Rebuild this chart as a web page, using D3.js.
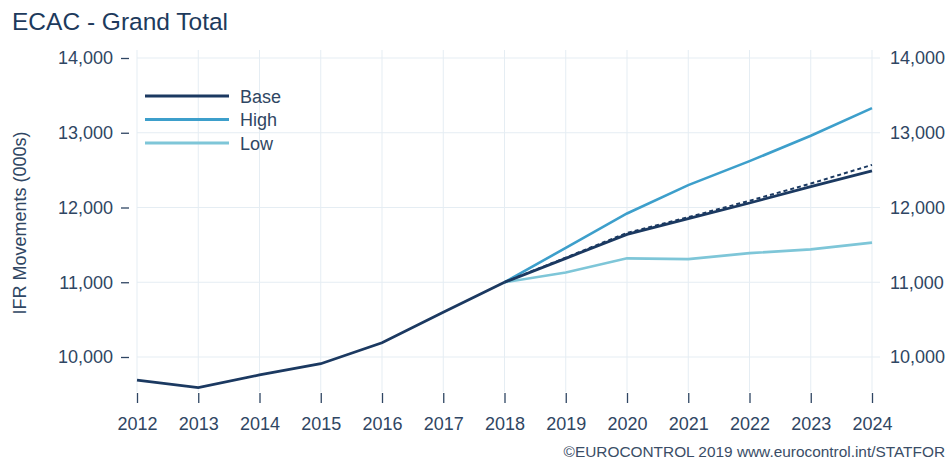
<!DOCTYPE html>
<html>
<head>
<meta charset="utf-8">
<script src="https://cdn.jsdelivr.net/npm/d3@7"></script>
<style>
  body { margin: 0; background: #fff; }
  svg { display: block; font-family: "Liberation Sans", Arial, sans-serif; }
</style>
</head>
<body>
<svg id="chart" width="952" height="466"></svg>
<script>
// years and series (thousands of IFR movements)
const years = [2012, 2013, 2014, 2015, 2016, 2017, 2018, 2019, 2020, 2021, 2022, 2023, 2024];
const histYears = [2012, 2013, 2014, 2015, 2016, 2017, 2018];
const histValues = [9690, 9590, 9760, 9910, 10190, 10600, 11000];
const fcYears = [2018, 2019, 2020, 2021, 2022, 2023, 2024];
const baseValues = [11000, 11320, 11640, 11850, 12060, 12280, 12490];
const baseDashValues = [11000, 11330, 11660, 11870, 12090, 12320, 12570];
const highValues = [11000, 11460, 11920, 12300, 12620, 12960, 13330];
const lowValues = [11000, 11130, 11320, 11310, 11390, 11440, 11530];
const yTicks = [10000, 11000, 12000, 13000, 14000];
const legendNames = ["Base", "High", "Low"];

const colors = { Base: "#1b3961", High: "#3d9fcb", Low: "#7ec6d8" };
const textCol = "#2f4663";

const svg = d3.select("#chart");

const x = d3.scaleLinear().domain([2012, 2024]).range([137, 872]);
const y = d3.scaleLinear().domain([10000, 14000]).range([357, 58]);
const plotTop = 50, plotBottom = 392, plotRight = 880;

// grid
svg.append("g").selectAll("line").data(years).join("line")
  .attr("x1", d => x(d)).attr("x2", d => x(d))
  .attr("y1", plotTop).attr("y2", plotBottom)
  .attr("stroke", "#e5edf3").attr("stroke-width", 1);
svg.append("g").selectAll("line").data(yTicks).join("line")
  .attr("x1", x(2012)).attr("x2", plotRight)
  .attr("y1", d => y(d)).attr("y2", d => y(d))
  .attr("stroke", "#e5edf3").attr("stroke-width", 1);

// title
svg.append("text").attr("x", 12).attr("y", 30)
  .attr("font-size", 24.5).attr("fill", "#1d3a5c").text("ECAC - Grand Total");

// left axis
const yl = svg.append("g").attr("transform", "translate(129,0)")
  .call(d3.axisLeft(y).tickValues(yTicks).tickSize(8).tickPadding(8).tickFormat(d3.format(",")));
yl.select(".domain").remove();
yl.selectAll("line").attr("stroke", textCol).attr("stroke-width", 1.3);
yl.selectAll("text").attr("font-size", 18).attr("fill", textCol).attr("font-family", null);

// right axis
const yr = svg.append("g").attr("transform", `translate(${plotRight},0)`)
  .call(d3.axisRight(y).tickValues(yTicks).tickSize(0).tickPadding(10).tickFormat(d3.format(",")));
yr.select(".domain").remove();
yr.selectAll("text").attr("font-size", 18).attr("fill", textCol).attr("font-family", null);

// bottom axis
const xa = svg.append("g").attr("transform", "translate(0,393)")
  .call(d3.axisBottom(x).tickValues(years).tickSize(10).tickPadding(14).tickFormat(d3.format("d")));
xa.select(".domain").remove();
xa.selectAll("line").attr("stroke", textCol).attr("stroke-width", 1.3);
xa.selectAll("text").attr("font-size", 18).attr("fill", textCol).attr("font-family", null);

// y label
svg.append("text")
  .attr("transform", "translate(26,223) rotate(-90)")
  .attr("text-anchor", "middle").attr("font-size", 18).attr("fill", textCol)
  .text("IFR Movements (000s)");

// lines
const line = d3.line().x(d => x(d[0])).y(d => y(d[1]));
const zip = (xs, vs) => xs.map((d, i) => [d, vs[i]]);

svg.append("path").datum(zip(fcYears, lowValues))
  .attr("fill", "none").attr("stroke", colors.Low).attr("stroke-width", 2.6).attr("d", line);
svg.append("path").datum(zip(fcYears, highValues))
  .attr("fill", "none").attr("stroke", colors.High).attr("stroke-width", 2.6).attr("d", line);
svg.append("path").datum(zip(fcYears, baseDashValues))
  .attr("fill", "none").attr("stroke", colors.Base).attr("stroke-width", 2)
  .attr("stroke-dasharray", "4,3").attr("d", line);
svg.append("path").datum(zip(fcYears, baseValues))
  .attr("fill", "none").attr("stroke", colors.Base).attr("stroke-width", 2.8).attr("d", line);
svg.append("path").datum(zip(histYears, histValues))
  .attr("fill", "none").attr("stroke", colors.Base).attr("stroke-width", 2.8).attr("d", line);

// legend
const lg = svg.append("g").selectAll("g").data(legendNames).join("g")
  .attr("transform", (d, i) => `translate(145,${96 + i * 23.5})`);
lg.append("line").attr("x1", 0).attr("x2", 84).attr("y1", 0).attr("y2", 0)
  .attr("stroke", d => colors[d]).attr("stroke-width", 3);
lg.append("text").attr("x", 95).attr("y", 6.5).attr("font-size", 18).attr("fill", textCol).text(d => d);

// footer
svg.append("text").attr("x", 945).attr("y", 457).attr("text-anchor", "end")
  .attr("font-size", 15.4).attr("fill", "#3a4d66")
  .text("©EUROCONTROL 2019 www.eurocontrol.int/STATFOR");
</script>
</body>
</html>
